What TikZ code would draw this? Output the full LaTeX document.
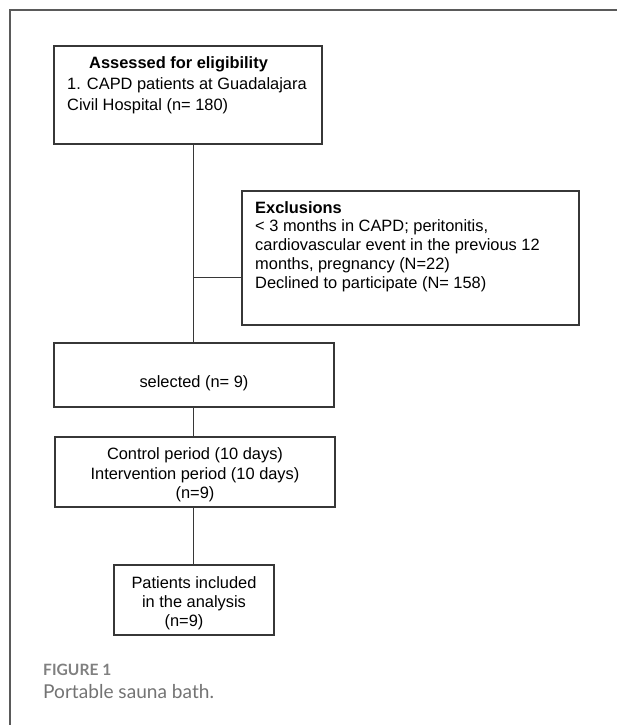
\documentclass[tikz,border=0pt]{standalone}
\usepackage{fontspec}
\setmainfont{Liberation Sans}
\newfontfamily\capfont{Lato}
\usepackage{xcolor}
\usepackage{tikz}
\definecolor{BoxLine}  {RGB}{55, 55, 55}
\definecolor{FrameLine}{RGB}{90, 90, 90}
\definecolor{CapGray}  {RGB}{128,128,128}
\definecolor{CapText}  {RGB}{115,115,115}

\begin{document}
\begin{tikzpicture}[x=0.03cm,y=-0.03cm,
    flowbox/.style={draw=BoxLine,line width=1.1pt,inner sep=0pt},
    boxtxt/.style={inner sep=0pt,text=black},
    link/.style={draw=BoxLine,line width=0.8pt}]
      \useasboundingbox (0,0) rectangle (617,725);
      \draw[FrameLine,line width=1.2pt] (10,725) -- (10,10) -- (617,10);
      \node[flowbox,minimum width=8.04cm,minimum height=2.94cm] (assess) at (188,95) {};
      \node[flowbox,minimum width=10.11cm,minimum height=4.02cm] (excl) at (410.5,258) {};
      \node[flowbox,minimum width=8.4cm,minimum height=1.92cm] (sel) at (194,375) {};
      \node[flowbox,minimum width=8.4cm,minimum height=2.1cm] (ctrl) at (195,472) {};
      \node[flowbox,minimum width=4.8cm,minimum height=2.1cm] (incl) at (194,600) {};
      \node[boxtxt,anchor=north west,align=left,font=\fontsize{14}{17.9}\selectfont] (assesstxt) at (67,56) {\hspace*{0.66cm}\textbf{Assessed for eligibility}\\1. CAPD patients at Guadalajara\\Civil Hospital (n= 180)};
      \node[boxtxt,anchor=north west,align=left,font=\fontsize{14}{16}\selectfont] (excltxt) at (255,201) {\textbf{Exclusions}\\< 3 months in CAPD; peritonitis,\\cardiovascular event in the previous 12\\months, pregnancy (N=22)\\Declined to participate (N= 158)};
      \node[boxtxt,anchor=base,font=\fontsize{14}{16}\selectfont] (seltxt) at (194,387) {selected (n= 9)};
      \node[boxtxt,anchor=north,align=center,font=\fontsize{14}{17}\selectfont] (ctrltxt) at (195,447) {Control period (10 days)\\Intervention period (10 days)\\(n=9)};
      \node[boxtxt,anchor=north,align=center,font=\fontsize{14}{16.2}\selectfont] (incltxt) at (194,576) {Patients included\\in the analysis\\(n=9)\hspace*{0.6cm}};
      \coordinate (split) at (193,277);
      \draw[link] (assess.south -| split) -- (sel.north -| split);
      \draw[link] (split) -- (split -| excl.west);
      \draw[link] (sel.south -| split) -- (ctrl.north -| split);
      \draw[link] (ctrl.south -| split) -- (incl.north -| split);
      \node[inner sep=0pt,anchor=base west,text=CapGray,font=\capfont\bfseries\fontsize{13.3}{15}\selectfont] (figlabel) at (43,675) {FIGURE 1};
      \node[inner sep=0pt,anchor=base west,text=CapText,font=\capfont\fontsize{16.3}{19}\selectfont] (figcaption) at (43,698) {Portable sauna bath.};
    \end{tikzpicture}
\end{document}
